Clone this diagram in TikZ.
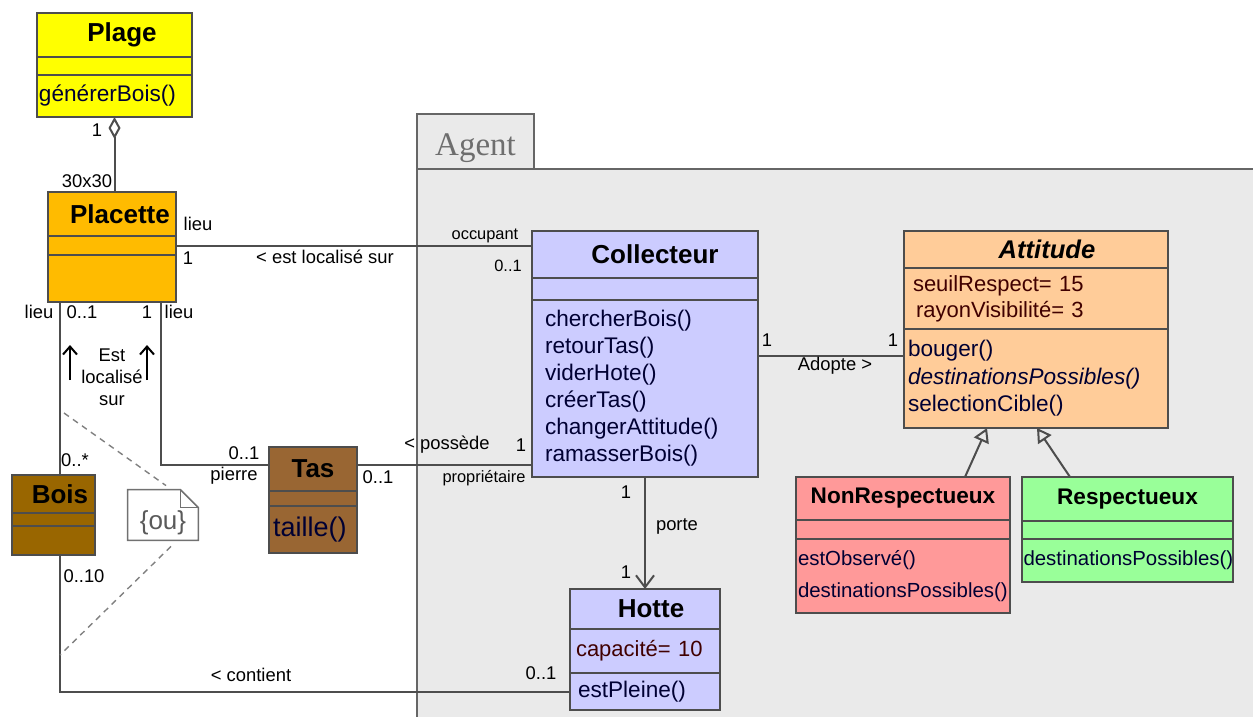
\documentclass[tikz,border=0pt]{standalone}
\usepackage{fontspec}
\setmainfont{Liberation Sans}
\newfontfamily\pkgfont{Liberation Serif}
\usetikzlibrary{positioning,arrows.meta}
\definecolor{boxline}{RGB}{77,77,77}
\definecolor{plagefill}{RGB}{255,255,0}
\definecolor{placettefill}{RGB}{255,187,0}
\definecolor{boisfill}{RGB}{153,102,0}
\definecolor{tasfill}{RGB}{153,102,51}
\definecolor{agentfill}{RGB}{204,204,255}
\definecolor{attfill}{RGB}{255,204,153}
\definecolor{nonfill}{RGB}{255,153,153}
\definecolor{respfill}{RGB}{153,255,153}
\definecolor{pkgfill}{RGB}{234,234,234}
\definecolor{pkgline}{RGB}{102,102,102}
\definecolor{pkgtext}{RGB}{110,110,110}
\definecolor{attrtext}{RGB}{64,0,0}
\definecolor{methtext}{RGB}{0,0,51}
\definecolor{notetext}{RGB}{90,90,90}

\tikzset{
  cls/.style={draw=boxline, line width=1pt, outer sep=0pt, inner sep=0pt},
  clsname/.style={cls, anchor=north west, font=\fontsize{13}{15}\selectfont\bfseries},
  clspart/.style={cls, below=0pt of #1},
  meth/.style={text=methtext, font=\fontsize{11.3}{13.5}\selectfont, align=left},
  attr/.style={text=attrtext, font=\fontsize{11}{13}\selectfont, align=left},
  lbl/.style={inner sep=0pt, font=\fontsize{9.2}{11}\selectfont},
  smalllbl/.style={inner sep=0pt, font=\fontsize{8.2}{10}\selectfont},
  assoc/.style={draw=boxline, line width=1pt},
  generalise/.style={assoc, -{Triangle[open, length=7pt, width=8pt]}},
  noteline/.style={draw=boxline!80, line width=0.8pt, fill=white},
  orline/.style={draw=gray, line width=0.7pt, dash pattern=on 3pt off 2.5pt},
}

\begin{document}
\begin{tikzpicture}[x=0.5pt, y=-0.5pt]
  \useasboundingbox (0,0) rectangle (1253,717);
  \coordinate (pageBR) at (1253,717);

  % paquetage Agent
  \node[draw=pkgline, fill=pkgfill, line width=0.8pt, outer sep=0pt, anchor=north west, minimum width=58.5pt, minimum height=27.5pt, text=pkgtext, font=\pkgfont\fontsize{16.5}{18}\selectfont] (agentTab) at (417,114) {\raisebox{-3.5pt}[\height][\depth]{Agent}};
  \fill[pkgfill] (agentTab.south west) rectangle (pageBR);
  \draw[draw=pkgline, line width=0.8pt] (agentTab.south west |- pageBR) -- (agentTab.south west) -- (agentTab.south west -| pageBR);

  % classes
  \node[clsname, fill=plagefill, minimum width=77.5pt, minimum height=22pt] (plage) at (37,13) {\hspace*{7.5pt}Plage};
  \node[clspart=plage, fill=plagefill, minimum width=77.5pt, minimum height=9pt] (plageA) {};
  \node[clspart=plageA, meth, fill=plagefill, text width=75.5pt, inner xsep=1pt, minimum height=21pt] (plageM) {générerBois()};

  \node[clsname, fill=placettefill, minimum width=64pt, minimum height=22pt] (placette) at (48,192) {\hspace*{8pt}Placette};
  \node[clspart=placette, fill=placettefill, minimum width=64pt, minimum height=9.5pt] (placetteA) {};
  \node[clspart=placetteA, fill=placettefill, minimum width=64pt, minimum height=23.5pt] (placetteM) {};

  \node[clsname, fill=boisfill, minimum width=41.5pt, minimum height=19pt] (bois) at (12,475) {\hspace*{6.5pt}Bois};
  \node[clspart=bois, fill=boisfill, minimum width=41.5pt, minimum height=6.5pt] (boisA) {};
  \node[clspart=boisA, fill=boisfill, minimum width=41.5pt, minimum height=14.5pt] (boisM) {};

  \node[clsname, fill=tasfill, minimum width=44pt, minimum height=22pt] (tas) at (269,447) {Tas};
  \node[clspart=tas, fill=tasfill, minimum width=44pt, minimum height=7.5pt] (tasA) {};
  \node[clspart=tasA, meth, fill=tasfill, text width=40pt, inner xsep=2pt, minimum height=23.5pt, font=\fontsize{13.5}{15}\selectfont] (tasM) {taille()};

  \node[clsname, fill=agentfill, minimum width=113pt, minimum height=23.5pt] (coll) at (532,231) {\hspace*{10pt}Collecteur};
  \node[clspart=coll, fill=agentfill, minimum width=113pt, minimum height=11pt] (collA) {};
  \node[clspart=collA, meth, fill=agentfill, text width=100pt, inner xsep=6.5pt, minimum height=88.5pt] (collM) {chercherBois()\\retourTas()\\viderHote()\\créerTas()\\changerAttitude()\\ramasserBois()};

  \node[clsname, fill=agentfill, minimum width=75pt, minimum height=20pt] (hotte) at (570,589) {\hspace*{6pt}Hotte};
  \node[clspart=hotte, attr, fill=agentfill, text width=69pt, inner xsep=3pt, minimum height=22pt] (hotteA) {capacité= 10};
  \node[clspart=hotteA, meth, fill=agentfill, text width=67pt, inner xsep=4pt, minimum height=18.5pt] (hotteM) {estPleine()};

  \node[clsname, fill=attfill, minimum width=132pt, minimum height=18.5pt, font=\fontsize{12.8}{15}\selectfont\bfseries\itshape] (att) at (904,231) {\hspace*{11pt}Attitude};
  \node[clspart=att, attr, fill=attfill, text width=123pt, inner xsep=4.5pt, minimum height=30.5pt] (attA) {seuilRespect= 15\\\hspace*{1.5pt}rayonVisibilité= 3};
  \node[clspart=attA, meth, fill=attfill, text width=128pt, inner xsep=2pt, minimum height=49.5pt, font=\fontsize{11.3}{13.75}\selectfont] (attM) {bouger()\\\textit{destinationsPossibles()}\\selectionCible()\\[-3pt]};

  \node[clsname, fill=nonfill, minimum width=107pt, minimum height=21.5pt, font=\fontsize{11.3}{13}\selectfont\bfseries] (nonresp) at (796,477) {NonRespectueux};
  \node[clspart=nonresp, fill=nonfill, minimum width=107pt, minimum height=9.5pt] (nonrespA) {};
  \node[clspart=nonrespA, meth, fill=nonfill, text width=105pt, inner xsep=1pt, minimum height=37pt, font=\fontsize{10.2}{16}\selectfont] (nonrespM) {estObservé()\\destinationsPossibles()\\[-4pt]};

  \node[clsname, fill=respfill, minimum width=105.5pt, minimum height=22pt, font=\fontsize{11.3}{13}\selectfont\bfseries] (resp) at (1022,477) {Respectueux};
  \node[clspart=resp, fill=respfill, minimum width=105.5pt, minimum height=9pt] (respA) {};
  \node[clspart=respA, meth, fill=respfill, text width=104pt, inner xsep=0.75pt, minimum height=21.5pt, font=\fontsize{10.2}{13}\selectfont] (respM) {destinationsPossibles()};

  % note {ou}
  \node[inner sep=0pt, minimum width=35pt, minimum height=25pt, text=notetext, font=\fontsize{13}{15}\selectfont] (note) at (163,515) {};
  \draw[noteline] (note.south west) -- (note.north west) -- ([xshift=-9pt]note.north east) -- ([yshift=-9pt]note.north east) -- (note.south east) -- cycle;
  \draw[noteline, fill=none] ([xshift=-9pt]note.north east) |- ([yshift=-9pt]note.north east);
  \node[inner sep=0pt, text=notetext, font=\fontsize{13}{15}\selectfont] (noteText) at ([yshift=-4pt]note.center) {\{ou\}};

  % associations
  \coordinate (boisX) at (60,0);
  \coordinate (pierreX) at (161,0);
  \coordinate (adopteY) at (0,356);
  \coordinate (ouA) at (64,413);
  \coordinate (ouB) at (60,655);
  \draw[assoc, {Diamond[open, length=11pt, width=6pt]}-] (plageM.south) -- (plageM.south |- placette.north);
  \draw[assoc] (placetteA.east) -- (placetteA.east -| coll.west);
  \draw[assoc] (placetteM.south -| pierreX) |- ([yshift=2pt]tas.west);
  \draw[assoc] (placetteM.south -| boisX) -- (bois.north -| boisX);
  \draw[assoc] (boisM.south -| boisX) |- (hotteM.west);
  \draw[assoc] ([yshift=2pt]tas.east) -- ([yshift=2pt]tas.east -| collM.west);
  \draw[assoc] (collM.east |- adopteY) -- (attM.west |- adopteY);
  \draw[assoc, -{Straight Barb[length=6pt, width=9pt]}] (collM.south) -- (hotte.north);
  \draw[generalise] ([xshift=31pt]nonresp.north) -- ([xshift=-24.5pt]attM.south);
  \draw[generalise] ([xshift=-28.75pt]resp.north) -- ([xshift=0.5pt]attM.south);
  \draw[orline] (ouA) -- ([xshift=1.5pt, yshift=2pt]note.north);
  \draw[orline] ([xshift=4pt, yshift=-3pt]note.south) -- (ouB);

  % roles et multiplicites
  \node[lbl] (mPlage) at (97,130) {1};
  \node[lbl] (mPlacette) at (87,181) {30x30};
  \node[lbl] (rLieuCol) at (198,224) {lieu};
  \node[lbl] (mLieuCol) at (188,258) {1};
  \node[lbl] (aEstLoc) at (325,257) {< est localisé sur};
  \node[smalllbl] (rOccupant) at (485,236) {occupant};
  \node[smalllbl] (mOccupant) at (508,266) {0..1};
  \node[lbl] (rLieuBois) at (39,312) {lieu};
  \node[lbl] (mLieuBois) at (82,312) {0..1};
  \node[lbl] (mLieuTas) at (147,312) {1};
  \node[lbl] (rLieuTas) at (179,312) {lieu};
  \node[lbl, align=center, font=\fontsize{9.2}{11}\selectfont] (aEstLocBis) at (112,377) {Est\\localisé\\sur};
  \foreach \ax in {70,147}
    \draw[line width=1pt, -{Straight Barb[length=4pt, width=7pt]}] (\ax,380) -- (\ax,345);
  \node[lbl] (mBoisHaut) at (75,460) {0..*};
  \node[lbl] (mBoisBas) at (84,576) {0..10};
  \node[lbl] (mPierre) at (244,453) {0..1};
  \node[lbl] (rPierre) at (234,476) {pierre};
  \node[lbl] (mTas) at (378,477) {0..1};
  \node[lbl] (aPossede) at (447,445) {< possède};
  \node[lbl] (mProprio) at (521,445) {1};
  \node[smalllbl] (rProprio) at (484,478) {propriétaire};
  \node[lbl] (aContient) at (251,675) {< contient};
  \node[lbl] (mHotteBois) at (541,673) {0..1};
  \node[lbl] (mPorteA) at (626,492) {1};
  \node[lbl] (aPorte) at (677,526) {porte};
  \node[lbl] (mPorteB) at (626,572) {1};
  \node[lbl] (mAdopteA) at (767,340) {1};
  \node[lbl] (mAdopteB) at (893,340) {1};
  \node[lbl] (aAdopte) at (835,366) {Adopte >};
\end{tikzpicture}
\end{document}
